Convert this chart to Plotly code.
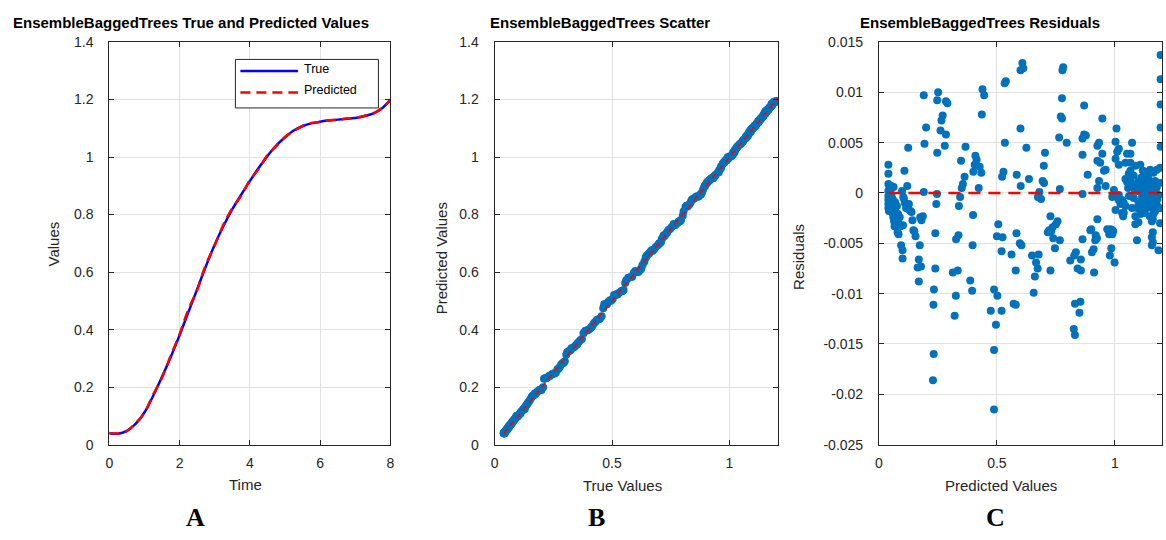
import plotly.graph_objects as go

# ---------------- data ----------------
# Panel A: time series (true vs predicted)
time_vals = [0, 0.25, 0.5, 0.75, 1.0, 1.25, 1.5, 1.75, 2.0, 2.25, 2.5, 2.75, 3.0, 3.25, 3.5, 3.75,
             4.0, 4.25, 4.5, 4.75, 5.0, 5.25, 5.5, 5.75, 6.0, 6.25, 6.5, 6.75, 7.0, 7.25, 7.5, 7.75, 8.0]
true_vals = [0.040, 0.038, 0.048, 0.072, 0.112, 0.170, 0.236, 0.305, 0.380, 0.460, 0.540, 0.620, 0.695,
             0.760, 0.818, 0.868, 0.916, 0.962, 1.003, 1.040, 1.068, 1.092, 1.107, 1.117, 1.123, 1.127,
             1.130, 1.133, 1.136, 1.142, 1.151, 1.168, 1.200]
pred_vals = [0.041, 0.039, 0.047, 0.075, 0.110, 0.175, 0.232, 0.310, 0.384, 0.470, 0.537, 0.626, 0.692,
             0.765, 0.822, 0.864, 0.919, 0.958, 1.006, 1.037, 1.070, 1.090, 1.108, 1.118, 1.122, 1.128,
             1.129, 1.134, 1.135, 1.143, 1.150, 1.170, 1.197]

# Panel C: predicted values and residuals (residuals in units of 1e-3)
c_pts = [
    (0.040, 2.8), (0.040, 1.9), (0.040, 0.9), (0.044, 0.7), (0.052, 0.7), (0.062, 0.6),
    (0.040, 0.2), (0.040, -0.3), (0.040, -0.7), (0.040, -1.1), (0.040, -1.5), (0.042, -1.8),
    (0.045, -0.4), (0.047, -1.2), (0.048, 0.2), (0.050, -0.8), (0.052, -1.6), (0.053, -0.2),
    (0.055, -1.3), (0.057, -2.0), (0.058, -0.6), (0.060, -1.1), (0.061, -2.4), (0.063, -1.5),
    (0.064, -2.8), (0.066, -3.3), (0.067, -1.9), (0.068, -0.9), (0.070, -1.4), (0.072, -2.2),
    (0.074, -3.0), (0.076, -1.3), (0.078, -2.5), (0.079, -3.9), (0.081, -2.1), (0.083, -4.1),
    (0.085, -3.1), (0.088, -2.4), (0.092, -3.3), (0.094, -5.2), (0.098, 0.2), (0.100, -5.7),
    (0.100, -6.5), (0.102, -3.2), (0.103, -0.4),
    (0.106, -0.6), (0.108, 2.2), (0.110, -1.0), (0.115, -1.5), (0.120, 0.7), (0.124, 4.5),
    (0.123, -1.6), (0.127, -1.1), (0.133, -1.8), (0.138, -1.9), (0.142, -2.7), (0.146, -3.7),
    (0.150, -3.8), (0.155, -4.3), (0.164, -7.4), (0.169, -6.6), (0.169, -8.8), (0.173, -5.2),
    (0.175, -2.4), (0.178, -7.3), (0.180, -2.7), (0.186, -2.3), (0.190, 0.1), (0.190, 9.7),
    (0.193, 4.9), (0.200, 6.5),
    (0.229, -18.6), (0.232, -16.0), (0.231, -11.1), (0.233, -9.6), (0.239, -7.5), (0.239, -4.0),
    (0.243, -1.1), (0.246, -0.1), (0.247, 4.0), (0.247, 9.2), (0.251, 10.0), (0.261, 6.2),
    (0.265, 7.2), (0.270, 7.7), (0.279, 4.7), (0.284, 5.8), (0.284, 9.1), (0.290, 8.9),
    (0.313, -7.9), (0.321, -12.2), (0.326, -10.2), (0.327, -4.6), (0.334, -7.7), (0.337, -4.2),
    (0.339, -1.3), (0.344, -0.4), (0.348, 3.2), (0.351, 0.5), (0.356, 0.9), (0.363, 1.6),
    (0.367, 4.6),
    (0.387, -8.7), (0.395, -9.7), (0.397, -5.2), (0.399, -2.2), (0.400, 2.1), (0.406, 2.8),
    (0.409, 3.7), (0.414, 3.3), (0.423, 0.5), (0.427, 2.6), (0.434, 2.0), (0.436, 7.8),
    (0.439, 10.3), (0.446, 9.7),
    (0.474, -11.7), (0.488, -9.6), (0.488, -15.6), (0.488, -21.5), (0.496, -13.1), (0.500, -4.3),
    (0.502, -10.2), (0.506, -3.1), (0.520, -11.7), (0.520, -5.8), (0.524, -4.4), (0.522, 1.6),
    (0.528, 2.1), (0.534, 5.0), (0.533, 10.9), (0.538, 11.1),
    (0.562, -6.1), (0.571, -11.0), (0.580, -11.1), (0.580, -7.7), (0.583, -4.0), (0.584, 1.8),
    (0.597, -5.0), (0.604, -5.2), (0.601, 0.7), (0.600, 6.4), (0.600, 12.2), (0.608, 12.9),
    (0.612, 12.4), (0.625, 4.5), (0.636, 1.4),
    (0.649, -6.2), (0.656, -9.9), (0.661, -8.3), (0.666, -6.9), (0.673, -7.5), (0.677, -6.1),
    (0.674, -0.4), (0.680, 0.1), (0.687, -0.6), (0.694, 1.2), (0.700, 1.0), (0.699, 2.7),
    (0.704, 4.0),
    (0.716, -3.9), (0.722, -3.7), (0.727, -7.7), (0.727, -2.3), (0.730, -3.8), (0.736, -3.4),
    (0.739, -4.5), (0.746, -5.5), (0.750, -3.1), (0.757, -2.8), (0.767, -4.7), (0.767, 0.4),
    (0.764, 5.5), (0.771, 7.6), (0.776, 7.4), (0.776, 9.4), (0.781, 12.5), (0.778, 12.2),
    (0.796, 5.0),
    (0.811, -6.7), (0.828, -6.2), (0.835, -5.9), (0.826, -13.5), (0.831, -14.1), (0.831, -11.0),
    (0.854, -10.8), (0.850, -11.9), (0.842, -7.5), (0.856, -7.7), (0.856, -6.6), (0.863, -4.6),
    (0.863, -0.1), (0.863, 3.8), (0.863, 5.4), (0.870, 5.8), (0.877, 5.7), (0.870, 8.7),
    (0.885, 1.8),
    (0.896, -3.7), (0.900, -3.6), (0.903, -5.9), (0.910, -5.6), (0.912, -7.9), (0.917, -4.7),
    (0.919, -4.2), (0.924, -4.5), (0.926, -2.6), (0.926, 0.5), (0.926, 3.2), (0.926, 4.7),
    (0.933, 5.0), (0.933, 1.2), (0.938, 3.0), (0.947, 3.9), (0.947, 7.4), (0.954, 2.2),
    (0.961, 2.3), (0.961, 0.7), (0.968, -3.6),
    (0.976, -4.1), (0.979, -6.2), (0.982, -3.8), (0.982, -3.6), (0.985, -5.5), (0.989, -4.1),
    (0.989, -3.7), (0.993, -3.8), (0.989, -0.4), (0.996, 0.3), (0.999, -6.9), (1.003, -1.7),
    (1.003, 3.4), (1.003, 5.1), (1.007, 6.4), (1.010, 4.1), (1.017, 4.4), (1.017, 2.8),
    (1.017, -0.2), (1.017, -0.7), (1.024, -1.1), (1.031, -0.7), (1.031, -2.0), (1.035, -2.3),
    (1.038, -1.0), (1.038, -2.0), (1.045, -1.3), (1.045, 1.4), (1.045, 3.0), (1.052, 3.9),
    (1.052, 1.1),
    (1.059, 1.9), (1.066, 2.2), (1.066, 1.4), (1.066, 3.9), (1.066, 3.0), (1.073, 5.0),
    (1.080, 1.7), (1.080, -0.5), (1.073, -1.5), (1.087, 2.7), (1.087, -2.3), (1.087, -3.1),
    (1.094, -1.5), (1.094, -4.7), (1.100, 1.1), (1.100, -0.9), (1.100, -2.9), (1.108, 2.8),
    (1.108, 0.3), (1.108, -1.7), (1.108, -2.1), (1.115, 0.7), (1.115, -0.4), (1.122, 1.7),
    (1.122, 0.1), (1.122, -1.2), (1.129, 2.1), (1.129, 1.1), (1.129, -0.7), (1.136, 0.4),
    (1.136, -1.5), (1.143, 1.4), (1.143, -0.5), (1.150, 2.3), (1.150, -0.1), (1.150, -1.3),
    (1.157, 0.9), (1.157, -0.9), (1.157, -2.8), (1.157, -4.4), (1.157, -5.2), (1.161, -2.6),
    (1.161, -3.9), (1.161, -4.9), (1.164, 2.0), (1.164, 0.3), (1.164, -1.7), (1.164, -2.1),
    (1.171, 1.2), (1.171, -0.5), (1.171, -1.8), (1.178, 2.3), (1.178, 0.6), (1.178, -1.2),
    (1.185, -0.2), (1.185, -5.7), (1.194, 13.7), (1.194, 11.3), (1.194, 8.8), (1.194, 6.5),
    (1.194, 4.6), (1.192, 2.5), (1.192, 1.0), (1.192, -1.5), (1.192, -3.0),
    (1.112, 1.5), (1.118, -0.9), (1.125, 0.5), (1.132, -0.2), (1.139, 0.8), (1.146, -1.0),
    (1.153, 0.6), (1.104, 0.8), (1.097, 0.2), (1.090, 0.9), (1.083, 0.4), (1.141, 1.9),
    (1.134, 1.6), (1.119, 2.2), (1.126, -2.0), (1.148, -2.3), (1.167, -1.2), (1.174, 0.1),
    (1.181, -0.6), (1.060, -0.3), (1.056, 0.5), (1.070, 0.8),
]
c_pred = [p for p, r in c_pts]
c_resid = [r / 1000.0 for p, r in c_pts]
# Panel B: true vs predicted (true = predicted + residual)
b_true = [p + r for p, r in zip(c_pred, c_resid)]
b_pred = c_pred

a_xticks = [0, 2, 4, 6, 8]
a_yticks = [0, 0.2, 0.4, 0.6, 0.8, 1.0, 1.2, 1.4]
b_xticks = [0, 0.5, 1]
c_yticks = [0.015, 0.01, 0.005, 0, -0.005, -0.01, -0.015, -0.02, -0.025]
c_yticktext = ["0.015", "0.01", "0.005", "0", "-0.005", "-0.01", "-0.015", "-0.02", "-0.025"]

# ---------------- figure ----------------
W, H = 1166, 540
BLUE_DOT = "#0072BD"
AX = "#262626"
FONT = "Liberation Sans, Arial, Helvetica, sans-serif"


def px(x):
    return x / W


def py(y):
    return 1 - y / H


fig = go.Figure()

# Panel A
fig.add_trace(go.Scatter(x=time_vals, y=true_vals, mode="lines", line=dict(color="#0000FF", width=2.5, shape="spline"),
                         xaxis="x", yaxis="y", showlegend=False))
fig.add_trace(go.Scatter(x=time_vals, y=pred_vals, mode="lines",
                         line=dict(color="#FF0000", width=2.5, dash="10px,6px", shape="spline"),
                         xaxis="x", yaxis="y", showlegend=False))

# Panel B
fig.add_trace(go.Scatter(x=b_true, y=b_pred, mode="markers", marker=dict(color=BLUE_DOT, size=8),
                         xaxis="x2", yaxis="y2", showlegend=False))
bmin, bmax = min(b_true), max(b_true)
fig.add_trace(go.Scatter(x=[bmin, bmax], y=[bmin, bmax], mode="lines",
                         line=dict(color="#FF0000", width=1.5, dash="6px,4px"),
                         xaxis="x2", yaxis="y2", showlegend=False))

# Panel C
fig.add_trace(go.Scatter(x=c_pred, y=c_resid, mode="markers", marker=dict(color=BLUE_DOT, size=8),
                         xaxis="x3", yaxis="y3", showlegend=False))
fig.add_trace(go.Scatter(x=[min(c_pred), max(c_pred)], y=[0, 0], mode="lines",
                         line=dict(color="#FF0000", width=2.5, dash="12px,8px"),
                         xaxis="x3", yaxis="y3", showlegend=False))

ydom = [90 / H, 505 / H]
common = dict(showline=True, linecolor=AX, linewidth=1, mirror="ticks", ticks="inside", ticklen=5,
              tickcolor=AX, tickwidth=1, showgrid=True, gridcolor="#E2E2E2", gridwidth=1, zeroline=False,
              tickfont=dict(family=FONT, size=14, color=AX))
xc = dict(common, ticklabelstandoff=6)
yc = dict(common, ticklabelstandoff=12)

fig.update_layout(
    width=W, height=H, margin=dict(l=0, r=0, t=0, b=0),
    paper_bgcolor="white", plot_bgcolor="white",
    xaxis=dict(xc, domain=[px(106), px(389)], range=[0, 8], tickvals=a_xticks, anchor="y"),
    yaxis=dict(yc, domain=ydom, range=[0, 1.4], tickvals=a_yticks, anchor="x"),
    xaxis2=dict(xc, domain=[px(494), px(779)], range=[0, 1.205], tickvals=b_xticks, anchor="y2"),
    yaxis2=dict(yc, domain=ydom, range=[0, 1.4], tickvals=a_yticks, anchor="x2"),
    xaxis3=dict(xc, domain=[px(881), 1.0], range=[0, 1.2], tickvals=b_xticks, anchor="y3"),
    yaxis3=dict(yc, domain=ydom, range=[-0.025, 0.015], tickvals=c_yticks, ticktext=c_yticktext, anchor="x3"),
)

ann = []


def text(x, y, s, size, bold=False, family=FONT, color=AX, angle=0, xanchor="center"):
    ann.append(dict(x=px(x), y=py(y), xref="paper", yref="paper", text=("<b>%s</b>" % s) if bold else s,
                    showarrow=False, xanchor=xanchor, yanchor="middle", textangle=angle,
                    font=dict(family=family, size=size, color=color)))


# Titles
text(188, 15, "EnsembleBaggedTrees True and Predicted Values", 15, bold=True, color="#000000")
text(600, 15, "EnsembleBaggedTrees Scatter", 15, bold=True, color="#000000")
text(983, 15, "EnsembleBaggedTrees Residuals", 15, bold=True, color="#000000")
# Axis titles
text(243, 491, "Time", 15)
text(50, 243, "Values", 15, angle=-90)
text(623, 492, "True Values", 15)
text(440, 258, "Predicted Values", 15, angle=-90)
text(1004, 492, "Predicted Values", 15)
text(800, 257, "Residuals", 15, angle=-90)
# Panel letters
serif = "Liberation Serif, Times New Roman, serif"
text(193, 525, "A", 26, bold=True, family=serif, color="#000000")
text(597, 525, "B", 26, bold=True, family=serif, color="#000000")
text(998, 525, "C", 26, bold=True, family=serif, color="#000000")
# Legend texts
text(300, 63, "True", 12.5, color="#000000", xanchor="left")
text(300, 84, "Predicted", 12.5, color="#000000", xanchor="left")

shapes = [
    dict(type="rect", xref="paper", yref="paper", x0=px(233), x1=px(377), y0=py(53), y1=py(103),
         line=dict(color=AX, width=1), fillcolor="white", layer="above"),
    dict(type="line", xref="paper", yref="paper", x0=px(238), x1=px(296), y0=py(65), y1=py(65),
         line=dict(color="#0000FF", width=2.5), layer="above"),
    dict(type="line", xref="paper", yref="paper", x0=px(238), x1=px(296), y0=py(87), y1=py(87),
         line=dict(color="#FF0000", width=2.5, dash="10px,6px"), layer="above"),
]
fig.update_layout(annotations=ann, shapes=shapes)

fig.write_html("out.html")
